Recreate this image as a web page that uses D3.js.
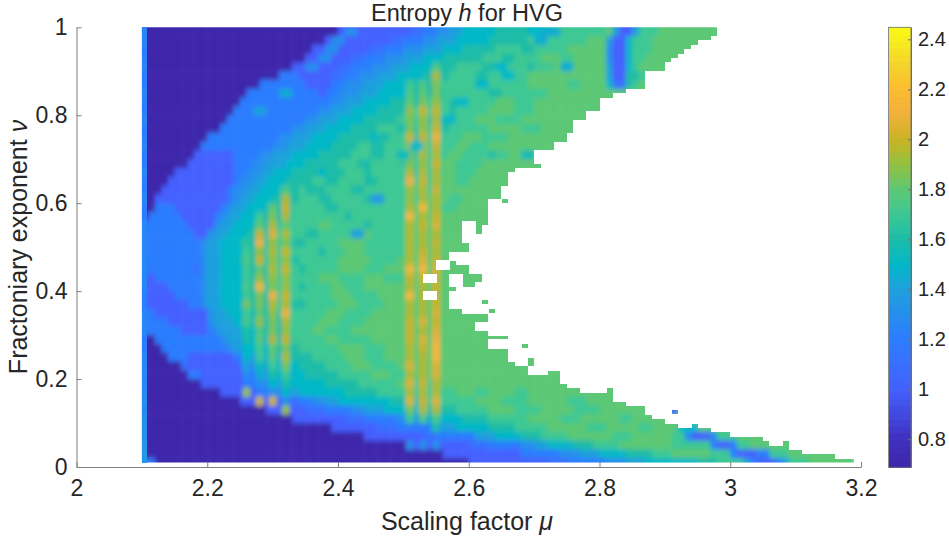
<!DOCTYPE html>
<html>
<head>
<meta charset="utf-8">
<script src="https://cdn.jsdelivr.net/npm/d3@7"></script>
<style>
  html, body { margin: 0; background: #fff; }
  text { font-family: "Liberation Sans", Arial, sans-serif; fill: #262626; }
</style>
</head>
<body>
<div id="chart"></div>
<script>
const WIDTH  = 949
const HEIGHT = 541

const muTicks = [2, 2.2, 2.4, 2.6, 2.8, 3, 3.2]
const nuTicks = [0, 0.2, 0.4, 0.6, 0.8, 1]
const barTicks = [0.8, 1, 1.2, 1.4, 1.6, 1.8, 2, 2.2, 2.4]

const colorValues = [0.69, 0.8, 1.0, 1.2, 1.4, 1.5, 1.6, 1.7, 1.8, 1.9, 2.0, 2.1, 2.2, 2.3, 2.45]
const colorStops = ['#3d26a8', '#4030c0', '#4460ff', '#2c7dff', '#1fa0dc', '#02b8c8', '#1bbca8', '#3cc894', '#5cc874',
    '#94c040', '#c8b424', '#f0b03c', '#fcbc30', '#f4d42c', '#f9fb15']

// one letter per level, a = 0.7 ... r = 2.4
const entropyLevels = [0.7, 0.8, 0.9, 1.0, 1.1, 1.2, 1.3, 1.4, 1.5, 1.6, 1.7, 1.8, 1.9, 2.0, 2.1, 2.2, 2.3, 2.4]

// runs of cells (level + count) per band of nu, from nu = 1 downwards, every 0.02. Rest of a row is level l
const entropyRows = [
    'a30 d11 e2 f2 g2 h2 i5 j5 i2 j2 k8 l1 h1 d2 h1 k3 l10',
    'a28 d10 e2 f3 g2 h3 i5 j6 k4 k5 l3 h1 d2 i1 k3 l10',
    'a26 d9 e2 f3 g3 h3 i3 j5 k4 j2 k5 l6 g1 d2 i1 k3 l10',
    'a25 d7 e2 f3 g3 h3 i3 j6 k3 j2 k4 l3 k2 l5 g1 d2 i1 k2 l9',
    'a23 d7 e2 f3 g3 h3 i4 j3 k4 j2 k5 j1 k3 l8 h1 d2 i1 k1 l8',
    'a21 f3 d5 e2 f2 g3 h3 i4 j4 k4 j2 k6 l12 h1 d2 j2 k2',
    'a18 f7 d4 f2 g3 h3 i4 j4 k6 j1 k7 l6 k2 l4 i1 e2 j1 k1',
    'a16 f11 d1 f2 g3 h3 i5 j5 k7 j2 k7 l10',
    'a15 f14 g2 h3 i4 j5 k4 j2 k5 l3 k3 l12',
    'a14 f13 g2 h3 i4 j5 k6 j1 k5 l4 k3 l10',
    'a13 f12 g2 h3 i4 j5 k5 j2 k5 l3 k4 l6',
    'a12 f11 g2 h3 i4 j4 k3 j3 k4 j1 k6 l5 k3',
    'a10 f11 g2 h3 i4 j5 i1 j2 k3 j2 k6 l3 k4',
    'a9 f11 g2 h3 i4 j4 k2 j2 k4 i1 j1 k5 l2 k3',
    'a8 d6 f4 g2 h3 i4 j5 k3 j2 k4 j1 k5 l2 k4 j1 k2',
    'a7 d7 f3 g2 h3 i3 j5 k3 j2 k5 j1 k4 l3 k4',
    'a5 d9 f2 g2 h2 i3 j4 i1 j3 k3 j1 k6 j1 k4 l2 k3',
    'a4 d10 f1 g2 h2 i3 j4 k2 j2 k4 j2 k5 k4 l3 k2',
    'a3 d10 f1 g2 h2 i3 j3 k1 j3 k4 j2 k7 l2 k3',
    'a2 d11 f1 g1 h2 i3 j4 k3 j2 k5 j1 k6 k2 l4 k2',
    'a2 f3 d7 f1 g1 h2 i3 j4 k5 j2 k4 k7 l5 k2',
    'a1 f5 d5 f1 g1 h2 i3 j4 j1 k5 k3 j1 k7 k2',
    'f7 d4 g1 h2 i3 j4 k6 l2 k5 j1 k5',
    'f8 d2 g1 h2 i3 j4 k5 j2 k5 l3 k5',
    'f9 g1 h2 i3 j4 k4 j2 k5 l4 k6',
    'f9 g1 h2 i3 i1 j3 k5 k3 j1 k3 l3 k6',
    'f9 g1 h2 i3 j4 k4 j1 k6 l5 k4',
    'f8 e1 g1 h2 i4 j3 k5 j1 k5 l4 k3',
    'd2 f7 g1 h2 i4 j3 k5 k3 l3 k4 l3 k3',
    'd4 f5 g1 h2 i4 j3 k5 j1 k4 l2 k3',
    'd5 f4 g1 h2 i4 j4 k4 k5 l3 k4',
    'd7 f2 g1 h2 i4 j4 k3 j2 k5 l3 k4',
    'f2 d8 g1 h2 i4 j4 k4 k3 l3 k4',
    'f4 d6 g1 h2 h1 i3 j4 j1 k5 l3 k4',
    'f6 d4 f1 g1 h3 i3 j4 k4 l2 k4',
    'a2 f10 g1 h3 i3 j4 k5 l2 k5',
    'a3 f10 g1 h2 i4 j4 k4 k2 l4 k3',
    'a4 f3 d7 f2 h2 i4 j4 k5 l3 k3',
    'a6 e1 d8 f2 h2 i4 i1 j4 k4 l3 k4',
    'a7 f2 d7 f2 h2 i5 j5 k5 l3 k3',
    'a9 d7 f2 g2 h2 i6 j5 k4 k2 l2 k4',
    'a12 d6 f2 g2 h2 i7 j5 k6 k6 l3 k2 l4 k2',
    'a15 d7 e2 f2 g2 h2 i8 j5 k6 k2 l4 k4 l6 k3',
    'a19 d6 e3 f4 g2 h3 i6 j5 k5 l4 k4 l5 k4',
    'a23 d8 e3 f5 g3 h2 i5 j4 k6 l5 k3 l6 k2',
    'a29 d7 e3 f5 g2 h2 i5 j4 k5 l6 k3 l5 k2 l4 i3',
    'a34 d9 e2 f6 h3 i4 j3 k4 l7 k3 l6 k2 g1 d3 g1 k3',
    'a41 d9 e3 f5 g2 h2 i4 j3 k4 l8 k3 k3 f1 d2 f1 k2',
    'a46 d12 f6 g3 h3 i4 j4 k3 l6 k3 f1 d3 f2 k3',
    'a50 d12 e3 f6 g3 h3 i8 j3 k4 h1 f1 d3 f1 h1 k3'
]

const leftColumn = [1.25, 1.25, 1.2, 1.2, 1.25, 1.2, 1.2, 1.25, 1.2, 1.2, 1.25, 1.2, 1.2, 1.25, 1.2, 1.2, 1.25, 1.2,
    1.2, 1.25, 1.2, 1.2, 1.25, 1.25, 1.25, 1.25, 1.25, 1.25, 1.25, 1.25, 1.2, 1.2, 1.25, 1.25, 1.25, 1.2, 1.2, 1.25, 1.25, 1.25,
    1.25, 1.25, 1.3, 1.25, 1.3, 1.3, 1.3, 1.35, 1.35, 1.35]

// the vertical bright stripes, one value per band of nu, 0 where the stripe is not seen
const stripeMus = [2.26, 2.28, 2.30, 2.32, 2.51, 2.53, 2.55]
const stripe226 = [0, 0, 0, 0, 0, 0, 0, 0, 0, 0, 0, 0, 0, 0, 0, 0, 0, 0, 0, 0, 0, 0, 0, 0,
    1.65, 1.7, 1.75, 1.7, 1.7, 1.75, 1.7, 1.85, 1.7, 1.75, 1.6, 1.6, 1.5, 1.5, 1.4, 1.3, 1.2, 1.9,
    0, 0, 0, 0, 0, 0, 0, 0]
const stripe228 = [0, 0, 0, 0, 0, 0, 0, 0, 0, 0, 0, 0, 0, 0, 0, 0, 0, 0, 0, 0, 0,
    1.7, 1.8, 2.0, 2.1, 1.9, 2.0, 1.8, 1.9, 2.15, 1.85, 1.85, 1.8, 1.9, 1.75, 1.8, 1.7, 1.7, 1.55, 1.45, 1.3, 1.2, 2.0,
    0, 0, 0, 0, 0, 0, 0]
const stripe230 = [0, 0, 0, 0, 0, 0, 0, 0, 0, 0, 0, 0, 0, 0, 0, 0, 0, 0, 0, 0,
    1.8, 1.85, 1.95, 2.05, 1.9, 1.95, 1.9, 1.95, 1.9, 1.85, 2.1, 1.95, 1.9, 1.85, 1.85, 1.95, 1.8, 1.8, 1.7, 1.6, 1.5, 1.3, 2.0,
    0, 0, 0, 0, 0, 0, 0]
const stripe232 = [0, 0, 0, 0, 0, 0, 0, 0, 0, 0, 0, 0, 0, 0, 0, 0, 0, 0,
    1.75, 1.95, 2, 1.95, 1.8, 1.95, 1.85, 2, 1.9, 2, 1.9, 1.9, 2, 1.95, 2.1, 1.95, 1.9, 2, 1.85, 1.95, 1.85, 1.7, 1.6, 1.5, 1.3, 1.9,
    0, 0, 0, 0, 0, 0]
const stripe251 = [0, 0, 0, 0, 0, 0,
    1.7, 1.75, 1.8, 1.9, 1.85, 1.85, 2.0, 1.9, 1.85, 1.85, 1.95, 2.1, 1.9, 1.9, 1.95, 2.15, 1.95, 1.95, 1.95, 1.95, 1.95, 2.15,
    2.0, 1.95, 2.15, 1.95, 1.95, 2, 2.0, 2.0, 1.95, 1.95, 2.05, 1.95, 2.05, 1.95, 2.05, 1.85, 1.7,
    0, 0, 1.3, 0, 0]
const stripe253 = [0, 0, 0, 0, 0, 0,
    1.75, 1.8, 1.85, 2.0, 1.9, 1.9, 2.0, 1.9, 1.95, 1.9, 1.95, 2.0, 1.95, 1.95, 2.15, 1.95, 2.0, 1.95, 1.95, 2.0, 2.05, 2.15,
    2.0, 1.95, 1.95, 1.95, 1.95, 2.05, 1.95, 2.05, 2.0, 1.95, 1.95, 1.95, 2.0, 1.95, 2.0, 1.95, 1.75,
    0, 0, 1.3, 0, 0]
const stripe255 = [0, 0, 0, 0, 1.75,
    1.95, 1.85, 1.85, 1.9, 2.0, 1.95, 2.0, 2.1, 2.0, 1.95, 2.0, 1.95, 1.95, 2.0, 1.95, 1.95, 2.0, 2.05, 1.95, 2.0, 1.95, 2.0, 2.05,
    2.0, 2.0, 2.0, 2.0, 2.05, 2.0, 2.05, 2.1, 2.15, 2.15, 2.05, 2.05, 1.95, 1.95, 2.05, 1.95, 1.75, 1.6,
    0, 1.3, 0, 0]
const stripes = [stripe226, stripe228, stripe230, stripe232, stripe251, stripe253, stripe255]

// isolated darker dots: mu, band index, value
const spotMus  = [2.46, 2.43, 2.32, 2.28, 2.36, 2.38, 2.39, 2.40, 2.42, 2.71, 2.72, 2.73, 2.75, 2.65, 2.66, 2.62, 2.59, 2.57, 2.52, 2.50, 2.69, 2.91, 2.11]
const spotRows = [19, 23, 7, 9, 4, 3, 2, 1, 0, 1, 0, 0, 4, 4, 5, 6, 8, 10, 13, 14, 14, 43, 49]
const spotVals = [1.35, 1.4, 1.45, 1.4, 1.3, 1.3, 1.3, 1.3, 1.3, 1.45, 1.45, 1.45, 1.45, 1.5, 1.5, 1.5, 1.5, 1.5, 1.5, 1.55, 1.55, 1.0, 1.2]

// first empty column for every row of 0.01 in nu, from nu = 1 downwards
const dataEnd = [
    88, 88, 87, 85, 84, 83, 82, 81, 80, 80,
    77, 77, 77, 77, 74, 72, 70, 70, 70, 68,
    68, 66, 66, 66, 65, 65, 63, 63, 60, 60,
    60, 61, 57, 56, 56, 56, 55, 55, 55, 53,
    53, 53, 53, 53, 49, 49, 49, 49, 49, 50,
    50, 47, 47, 45, 45, 50, 43, 43, 47, 48,
    43, 43, 47, 47, 49, 53, 53, 51, 51, 53,
    56, 53, 53, 56, 56, 56, 57, 59, 59, 64,
    64, 65, 67, 72, 72, 74, 77, 77, 78, 80,
    82, 87, 90, 95, 96, 99, 101, 106, 109
]

// filled cells past the edge: row, first column, end column
const islands = [[39, 55, 56], [44, 51, 53], [45, 51, 52], [46, 51, 52], [53, 47, 48], [54, 47, 50], [56, 45, 47], [56, 49, 52],
    [57, 45, 47], [57, 49, 52], [58, 49, 51], [60, 45, 47], [61, 45, 47], [62, 52, 53], [64, 53, 54], [72, 58, 59], [75, 59, 60],
    [76, 59, 60], [78, 62, 64], [82, 71, 72], [87, 81, 82], [90, 84, 85], [94, 98, 99]]

const MU_START = 2.1
const MU_STEP  = 0.01
const NU_STEP  = 0.01
const COLUMNS  = 109

const x = d3.scaleLinear().domain([2, 3.2]).range([76.5, 861])
const y = d3.scaleLinear().domain([0, 1]).range([467, 27.3])
const color = d3.scaleLinear().domain(colorValues).range(colorStops).clamp(true)
const barY = d3.scaleLinear().domain([0.688, 2.448]).range([467.3, 27.3])

const colX = c => x(MU_START + c * MU_STEP)
const rowY = r => y(1 - r * NU_STEP)
const plotLeft = colX(0), plotRight = colX(COLUMNS), plotTop = rowY(0), plotBottom = rowY(99)

const svg = d3.select('#chart').append('svg')
    .attr('width', WIDTH)
    .attr('height', HEIGHT)

const defs = svg.append('defs')
const blur = defs.append('filter').attr('id', 'smooth')
    .attr('filterUnits', 'userSpaceOnUse')
    .attr('x', 0).attr('y', 0).attr('width', WIDTH).attr('height', HEIGHT)
blur.append('feGaussianBlur').attr('stdDeviation', '2.3 2.9')
defs.append('clipPath').attr('id', 'plotClip').append('rect')
    .attr('x', plotLeft).attr('y', plotTop)
    .attr('width', plotRight - plotLeft).attr('height', plotBottom - plotTop)

// decode the runs into cells
const cells = []
entropyRows.forEach((row, band) => {
    const values = []
    for (const m of row.matchAll(/([a-r])(\d*)/g)) {
        const level = entropyLevels[m[1].charCodeAt(0) - 97]
        for (let i = 0; i < +(m[2] || 1); i++) values.push(level)
    }
    d3.range(COLUMNS).forEach(c => {
        cells.push({ c, band, h: values[c] === undefined ? 1.8 : values[c] })
    })
})

const field = svg.append('g').attr('clip-path', 'url(#plotClip)')
    .append('g').attr('filter', 'url(#smooth)')

// outer cells run on past the clip so that the blur does not fade at the edges
field.selectAll('rect.cell')
    .data(cells)
    .join('rect')
    .attr('class', 'cell')
    .attr('x', d => d.c === 0 ? plotLeft - 14 : colX(d.c))
    .attr('y', d => d.band === 0 ? plotTop - 14 : rowY(d.band * 2))
    .attr('width', d => (d.c === 0 ? 14 : 0) + colX(d.c + 1) - colX(d.c) + 0.5)
    .attr('height', d => (d.band === 0 ? 14 : 0) + (d.band === 49 ? 18 : rowY(2) - rowY(0) + 0.5))
    .attr('fill', d => color(d.h))

const stripeCells = []
stripes.forEach((vals, i) => vals.forEach((h, band) => {
    if (h > 0) stripeCells.push({ mu: stripeMus[i], band, h })
}))

field.selectAll('rect.stripe')
    .data(stripeCells)
    .join('rect')
    .attr('class', 'stripe')
    .attr('x', d => x(d.mu - MU_STEP * 0.6))
    .attr('y', d => rowY(d.band * 2))
    .attr('width', x(MU_STEP * 1.2) - x(0))
    .attr('height', rowY(2) - rowY(0) + 0.5)
    .attr('fill', d => color(d.h))

field.selectAll('rect.spot')
    .data(spotMus.map((mu, i) => ({ mu, band: spotRows[i], h: spotVals[i] })))
    .join('rect')
    .attr('class', 'spot')
    .attr('x', d => x(d.mu - MU_STEP))
    .attr('y', d => rowY(d.band * 2))
    .attr('width', x(MU_STEP * 2) - x(0))
    .attr('height', rowY(2) - rowY(0))
    .attr('fill', d => color(d.h))

// the light first column of the grid sits above the blur
svg.append('g').attr('shape-rendering', 'crispEdges')
    .selectAll('rect')
    .data(leftColumn)
    .join('rect')
    .attr('x', plotLeft)
    .attr('y', (d, i) => rowY(i * 2))
    .attr('width', colX(1) - colX(0) - 1.5)
    .attr('height', (d, i) => i === 49 ? rowY(1) - rowY(0) : rowY(2) - rowY(0))
    .attr('fill', d => color(d))

// empty cells stay white
const isFilled = (r, c) => c < dataEnd[r] || islands.some(s => s[0] === r && c >= s[1] && c < s[2])
const emptyCells = []
dataEnd.forEach((end, r) => {
    d3.range(end, COLUMNS + 1).forEach(c => {
        if (!isFilled(r, c)) emptyCells.push({ r, c })
    })
})

svg.append('g').attr('shape-rendering', 'crispEdges')
    .selectAll('rect')
    .data(emptyCells)
    .join('rect')
    .attr('x', d => colX(d.c))
    .attr('y', d => rowY(d.r))
    .attr('width', colX(1) - colX(0) + 0.5)
    .attr('height', rowY(1) - rowY(0) + 0.5)
    .attr('fill', '#fff')

// axes
const xAxis = svg.append('g')
    .attr('transform', `translate(0, ${y(0)})`)
    .call(d3.axisBottom(x).tickValues(muTicks).tickFormat(d3.format('~g')).tickSizeInner(-5).tickSizeOuter(0).tickPadding(13))
const yAxis = svg.append('g')
    .attr('transform', `translate(${x(2)}, 0)`)
    .call(d3.axisLeft(y).tickValues(nuTicks).tickFormat(d3.format('~g')).tickSizeInner(-5).tickSizeOuter(0).tickPadding(9))

for (const axis of [xAxis, yAxis]) {
    axis.selectAll('path, line').attr('stroke', '#7f7f7f').attr('stroke-width', 1)
    axis.selectAll('text').attr('font-size', 23).attr('fill', '#262626').attr('font-family', null)
}

// colour bar
const barCount = 64
const barStep = (barY.domain()[1] - barY.domain()[0]) / barCount
const bar = svg.append('g').attr('shape-rendering', 'crispEdges')
bar.selectAll('rect')
    .data(d3.range(barCount).map(i => barY.domain()[0] + i * barStep))
    .join('rect')
    .attr('x', 888.5)
    .attr('width', 22.5)
    .attr('y', d => barY(d + barStep))
    .attr('height', d => barY(d) - barY(d + barStep) + 0.5)
    .attr('fill', d => color(d + barStep / 2))

const barAxis = svg.append('g')
    .attr('transform', 'translate(911, 0)')
    .call(d3.axisRight(barY).tickValues(barTicks).tickFormat(d3.format('~g')).tickSizeInner(-3).tickSizeOuter(0).tickPadding(7))
barAxis.selectAll('path, line').attr('stroke', '#6f6f6f')
barAxis.selectAll('text').attr('font-size', 20).attr('fill', '#262626').attr('font-family', null)
svg.append('rect').attr('x', 888.5).attr('y', 27.3).attr('width', 22.5).attr('height', 440)
    .attr('fill', 'none').attr('stroke', '#6f6f6f').attr('stroke-width', 0.8)

// labels
const title = svg.append('text').attr('x', 467).attr('y', 21.3).attr('text-anchor', 'middle').attr('font-size', 23.5)
title.append('tspan').text('Entropy ')
title.append('tspan').attr('font-style', 'italic').text('h')
title.append('tspan').text(' for HVG')

const xLabel = svg.append('text').attr('x', 467).attr('y', 530).attr('text-anchor', 'middle').attr('font-size', 25)
xLabel.append('tspan').text('Scaling factor ')
xLabel.append('tspan').attr('font-style', 'italic').text('μ')

const yLabel = svg.append('text').attr('transform', 'translate(27, 247) rotate(-90)').attr('text-anchor', 'middle').attr('font-size', 25)
yLabel.append('tspan').text('Fractoniary exponent ')
yLabel.append('tspan').attr('font-style', 'italic').text('ν')
</script>
</body>
</html>
